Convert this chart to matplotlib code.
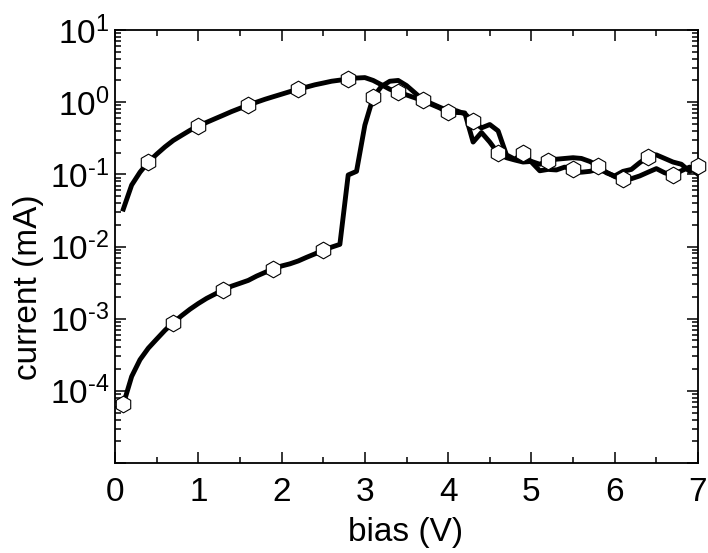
import numpy as np
import matplotlib
matplotlib.use("Agg")
import matplotlib.pyplot as plt
from matplotlib.ticker import LogLocator, FuncFormatter, MultipleLocator, NullFormatter

plt.rcParams['font.family'] = ['Liberation Sans', 'DejaVu Sans']
plt.rcParams['mathtext.fontset'] = 'custom'
plt.rcParams['mathtext.rm'] = 'Liberation Sans'
plt.rcParams['mathtext.it'] = 'Liberation Sans'
plt.rcParams['mathtext.default'] = 'regular'

# bias values (V), 0.1 .. 7.0
bias = [round(0.1 * i, 1) for i in range(1, 71)]

# upper curve (mA)
current_a = [0.033, 0.071, 0.107, 0.148, 0.19, 0.24, 0.295, 0.347, 0.407, 0.468,
             0.525, 0.589, 0.66, 0.741, 0.822, 0.912, 1.0, 1.096, 1.19, 1.29,
             1.40, 1.51, 1.62, 1.74, 1.84, 1.95, 2.02, 2.08, 2.16, 2.19,
             2.0, 1.74, 1.51, 1.37, 1.26, 1.15, 1.05, 0.93, 0.83, 0.72,
             0.72, 0.71, 0.28, 0.38, 0.28, 0.195, 0.17, 0.158, 0.148, 0.151,
             0.138, 0.155, 0.162, 0.166, 0.17, 0.166, 0.151, 0.132, 0.105, 0.095,
             0.11, 0.117, 0.145, 0.174, 0.186, 0.166, 0.148, 0.138, 0.11, 0.132]

# lower curve (mA)
current_b = [6.5e-5, 1.58e-4, 2.7e-4, 3.9e-4, 5.2e-4, 6.9e-4, 8.8e-4, 1.10e-3, 1.35e-3, 1.62e-3,
             1.91e-3, 2.19e-3, 2.51e-3, 2.82e-3, 3.09e-3, 3.39e-3, 3.89e-3, 4.37e-3, 4.9e-3, 5.37e-3,
             5.75e-3, 6.3e-3, 7.08e-3, 7.9e-3, 8.9e-3, 9.8e-3, 0.0107, 0.098, 0.11, 0.48,
             1.17, 1.66, 1.95, 2.0, 1.70, 1.35, 1.07, 0.955, 0.85, 0.76,
             0.76, 0.69, 0.54, 0.44, 0.49, 0.40, 0.186, 0.162, 0.195, 0.148,
             0.112, 0.117, 0.115, 0.126, 0.117, 0.107, 0.11, 0.117, 0.107, 0.093,
             0.085, 0.087, 0.095, 0.107, 0.12, 0.105, 0.098, 0.112, 0.126, 0.10]

x_ticks = [0, 1, 2, 3, 4, 5, 6, 7]

W, H = 708, 553
fig = plt.figure(figsize=(W / 100, H / 100), dpi=100)
ax = fig.add_axes([115 / W, 90 / H, (698 - 115) / W, (463 - 30) / H])

for y in (current_a, current_b):
    ax.plot(bias, y, color='black', lw=3.5, solid_joinstyle='round', zorder=2)
for y, mstart in ((current_a, 3), (current_b, 0)):
    ax.plot(bias, y, linestyle='none', marker='h', markersize=12,
            markerfacecolor='white', markeredgecolor='black', markeredgewidth=0.8,
            markevery=(mstart, 6), zorder=3, clip_on=False)

ax.set_yscale('log')
ax.set_xlim(0, 7)
ax.set_ylim(1e-5, 1e1)

ax.set_xticks(x_ticks)
ax.xaxis.set_minor_locator(MultipleLocator(0.5))
ax.yaxis.set_major_locator(LogLocator(base=10, numticks=20))
ax.yaxis.set_minor_locator(LogLocator(base=10, subs=np.arange(2, 10), numticks=20))
ax.yaxis.set_minor_formatter(NullFormatter())

def fmt(v, pos):
    e = int(round(np.log10(v)))
    if e < -4:
        return ''
    return r'$10^{\text{%d}}$' % e

ax.yaxis.set_major_formatter(FuncFormatter(fmt))

ax.tick_params(which='both', direction='in', top=True, right=True, labelsize=24, width=1.1)
ax.tick_params(which='major', length=8)
ax.tick_params(which='minor', length=4)
ax.tick_params(axis='x', which='major', pad=10)
ax.tick_params(axis='y', which='major', pad=4)
for s in ax.spines.values():
    s.set_linewidth(1.3)

fig.text(406 / W, 1 - 532 / H, 'bias (V)', fontsize=24, ha='center', va='center')
fig.text(28 / W, 1 - 287 / H, 'current (mA)', fontsize=24, ha='center', va='center',
         rotation=90)

fig.savefig('out.png', dpi=100)
